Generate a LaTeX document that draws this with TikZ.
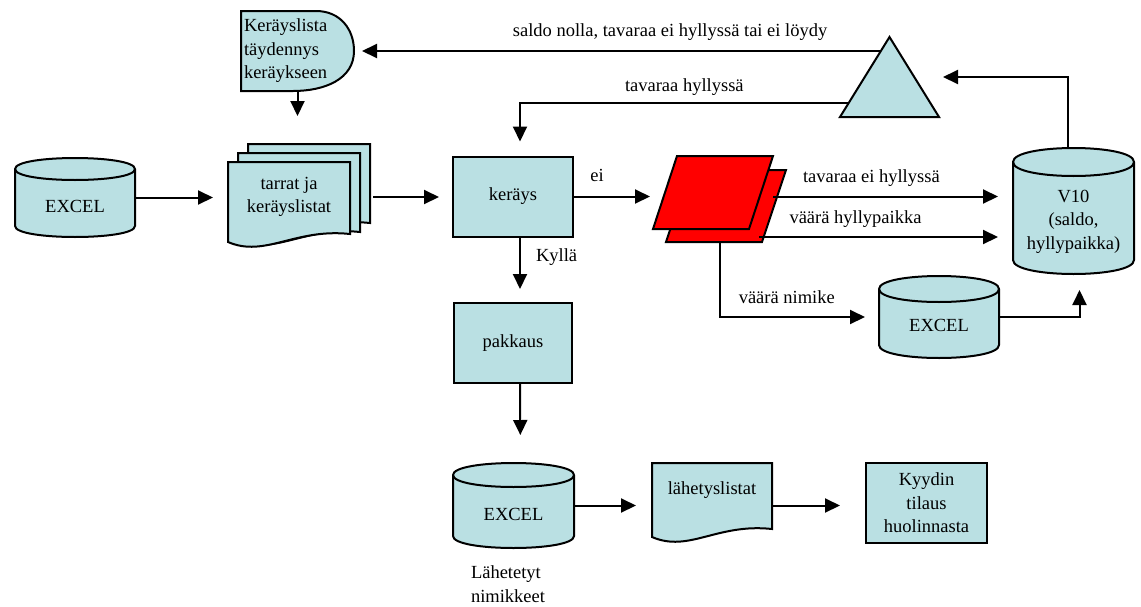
\documentclass[tikz,border=0pt]{standalone}
\usepackage{fontspec}
\setmainfont{Liberation Serif}
\usetikzlibrary{arrows.meta, calc, backgrounds}

\definecolor{boxfill}{RGB}{186,224,227}
% text in the can shapes sits a bit below the middle
\newcommand\lowtext[1]{\raisebox{-5pt}[\height][\depth]{\begin{tabular}{@{}c@{}}#1\end{tabular}}}

\begin{document}
\begin{tikzpicture}[x=0.5pt, y=-0.5pt, font=\fontsize{9.25}{11.75}\selectfont,
        every node/.style={inner sep=0pt, outer sep=0pt},
        box/.style={draw, fill=boxfill, line width=1pt, minimum width=60pt, minimum height=40pt, align=center},
        db/.style={minimum width=60pt},
        sheet/.style={minimum width=61pt, minimum height=35pt, align=center},
        lbl/.style={inner sep=1pt, text height=6.5pt, text depth=2pt},
        shapeline/.style={draw, line width=1pt},
        arr/.style={-{Triangle[length=7.5pt,width=7pt]}, line width=1pt}]

        \useasboundingbox (0,0) rectangle (1141,606);

        % nodes
        \node[minimum width=56.5pt, minimum height=40pt, text width=53.5pt, align=left] (tayd) at (297.5,51) {Keräyslista\\täydennys\\keräykseen};
        \node[db, minimum height=39.5pt] (excelA) at (75,197.5) {\lowtext{EXCEL}};
        \node[sheet] (listat3) at (309,179) {};
        \node[sheet] (listat2) at (299,188) {};
        \node[sheet] (listat) at (289,197) {tarrat ja\\keräyslistat};
        \node[box] (kerays) at (513,196.5) {keräys};
        \node[minimum width=60pt, minimum height=36.5pt] (redF) at (713,192.5) {};
        \node[minimum width=60pt, minimum height=36pt] (redB) at (726,206) {};
        \node[minimum width=49.5pt, minimum height=40pt] (tri) at (889.5,77) {};
        \node[db, minimum width=60.5pt, minimum height=63pt] (v10) at (1073.5,211) {\lowtext{V10\\(saldo,\\hyllypaikka)}};
        \node[db, minimum height=41pt] (excelB) at (939,317) {\lowtext{EXCEL}};
        \node[box, minimum width=59pt] (pakkaus) at (513,343) {pakkaus};
        \node[db, minimum width=60.5pt, minimum height=42.5pt] (excelC) at (513.5,505.5) {\lowtext{EXCEL}};
        \node[sheet, minimum width=60pt, minimum height=27pt] (lahetys) at (712,490) {lähetyslistat};
        \node[box, minimum width=60.5pt] (kyydin) at (926.5,503) {Kyydin\\tilaus\\huolinnasta};
        \node[align=left, anchor=west] (lahetetyt) at (471,584) {Lähetetyt\\nimikkeet};

        % shapes behind the texts
        \begin{scope}[on background layer]
            \foreach \n/\r in {excelA/11, excelB/13, excelC/12, v10/14} {
                \filldraw[shapeline, fill=boxfill] ($(\n.north west)+(0,\r)$) -- ($(\n.south west)+(0,-\r)$)
                    .. controls +(0,1.333*\r) and +(0,1.333*\r) .. ($(\n.south east)+(0,-\r)$)
                    -- ($(\n.north east)+(0,\r)$)
                    .. controls +(0,-1.333*\r) and +(0,-1.333*\r) .. ($(\n.north west)+(0,\r)$) -- cycle;
                \draw[shapeline] ($(\n.north west)+(0,\r)$) .. controls +(0,1.333*\r) and +(0,1.333*\r) .. ($(\n.north east)+(0,\r)$);
            }
            \foreach \n/\a in {listat3/17, listat2/17, listat/10, lahetys/20}
                \filldraw[shapeline, fill=boxfill] (\n.north west) -- (\n.north east) -- ($(\n.south east)+(0,\a-8)$)
                    .. controls +(-55,-6) and +(37,16) .. ($(\n.south west)+(0,\a)$) -- cycle;
            \foreach \n in {redB, redF}
                \filldraw[shapeline, fill=red] ($(\n.north west)+(24,0)$) -- (\n.north east) -- ($(\n.south east)+(-24,0)$) -- (\n.south west) -- cycle;
            \filldraw[shapeline, fill=boxfill] (tri.south west) -- (tri.north) -- (tri.south east) -- cycle;
            \filldraw[shapeline, fill=boxfill] (tayd.south west) -- (tayd.north west) -- ($(tayd.north west)+(75,0)$)
                .. controls +(24,0) and +(0,-22) .. (tayd.east)
                .. controls +(0,28) and +(32,0) .. ($(tayd.south west)+(52,0)$) -- cycle;
        \end{scope}

        % connectors
        \coordinate (triL) at ($(tri.south west)!0.825!(tri.north)$);
        \coordinate (triM) at ($(tri.south west)!0.175!(tri.north)$);
        \coordinate (wrongShelf) at ([xshift=-13.5pt,yshift=2.5pt]redB.south east);

        \draw[arr, shorten >=7.5pt] (excelA.east) -- (excelA.east -| listat.west);
        \draw[arr, shorten >=14pt] (tayd.south) -- (tayd.south |- listat3.north);
        \draw[arr, shorten <=1.5pt, shorten >=7pt] (listat3.east |- listat.east) -- (kerays.west |- listat.east);
        \draw[arr, shorten >=1.5pt] (kerays.east) -- (kerays.east -| redF.west)
            node[lbl, above=4.5pt, pos=0.3] (lblEi) {ei};
        \draw[arr, shorten >=7pt] ([xshift=3.5pt]kerays.south) -- ([xshift=3.5pt]pakkaus.north)
            node[lbl, right=7pt, pos=0.31] (lblKylla) {Kyllä};
        \draw[arr, shorten >=14pt] ([xshift=3.5pt]pakkaus.south) -- ([xshift=3.5pt]excelC.north);
        \draw[arr, shorten >=8pt] (excelC.east) -- (excelC.east -| lahetys.west);
        \draw[arr, shorten >=13pt] (lahetys.east |- excelC.east) -- (excelC.east -| kyydin.west);
        \draw[arr, shorten >=7.5pt] (redF.north east |- kerays.east) -- (kerays.east -| v10.west)
            node[lbl, above=3.8pt, pos=0.41] (lblNoStock) {tavaraa ei hyllyssä};
        \draw[arr, shorten >=7.5pt] (wrongShelf) -- (wrongShelf -| v10.west)
            node[lbl, above=3.8pt, pos=0.38] (lblShelf) {väärä hyllypaikka};
        \draw[arr, shorten >=7pt] ([xshift=-3pt]redB.south) |- (excelB.west)
            node[lbl, above=3.8pt, pos=0.71] (lblItem) {väärä nimike};
        \draw[arr, shorten >=8pt] (excelB.east) -| ([xshift=3pt]v10.south);
        \draw[arr, shorten >=2pt] ([xshift=-3pt]v10.north) |- (tri.east);
        \draw[arr, shorten >=4pt] (triL) -- (triL -| tayd.east)
            node[lbl, above=4.3pt, pos=0.40] (lblZero) {saldo nolla, tavaraa ei hyllyssä tai ei löydy};
        \draw[arr, shorten >=7.5pt] (triM) -| ([xshift=3.5pt]kerays.north)
            node[lbl, above=2.8pt, pos=0.25] (lblStock) {tavaraa hyllyssä};
\end{tikzpicture}
\end{document}
